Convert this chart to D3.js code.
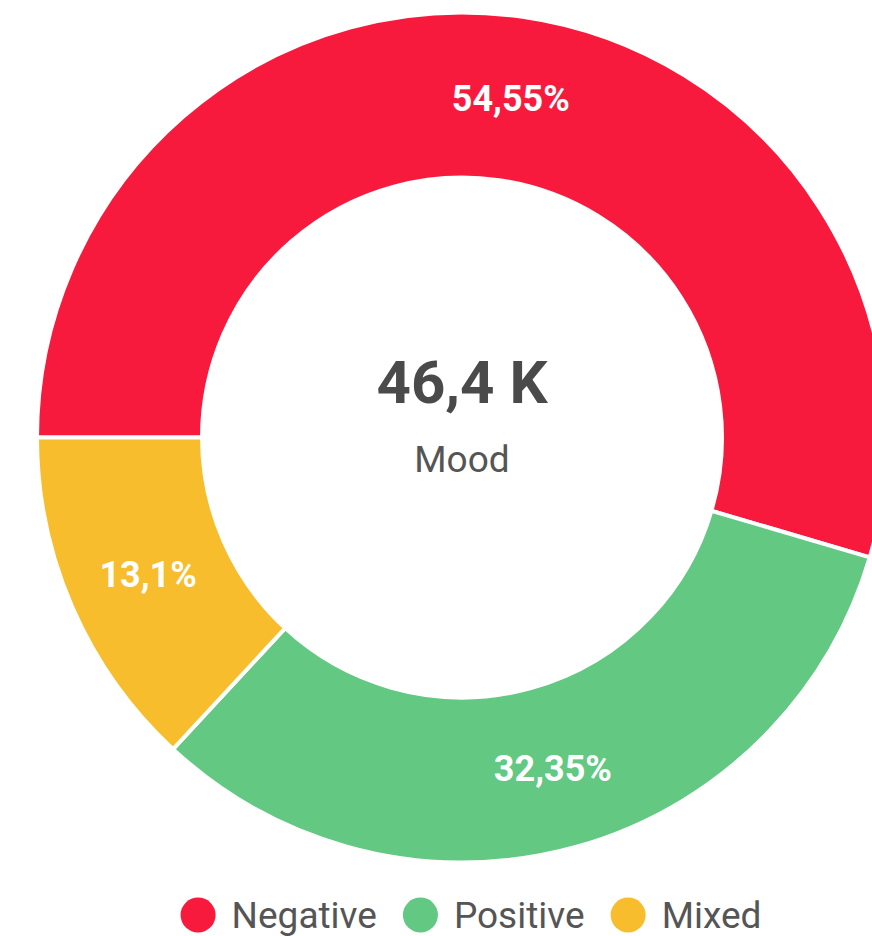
<!DOCTYPE html>
<html>
<head>
<meta charset="utf-8">
<script src="https://cdn.jsdelivr.net/npm/d3@7"></script>
<style>
  body { margin: 0; background: #fff; overflow: hidden; }
  svg { display: block; font-family: Roboto, "Noto Sans", sans-serif; }
</style>
</head>
<body>
<div id="chart"></div>
<script>
// data
const categories = ["Negative", "Positive", "Mixed"];
const shares = [54.55, 32.35, 13.1];
const shareLabels = ["54,55%", "32,35%", "13,1%"];
const colors = ["#F81A3D", "#62C882", "#F7BD2C"];
const totalLabel = "46,4 K";
const centerTitle = "Mood";

const width = 872;
const height = 936;
const cx = 462, cy = 437.5;
const outerR = 425;
const innerR = 260;

const svg = d3.select("#chart")
  .append("svg")
  .attr("width", width)
  .attr("height", height);

const g = svg.append("g")
  .attr("transform", `translate(${cx},${cy})`);

// start at 9 o'clock, clockwise
const pie = d3.pie()
  .sort(null)
  .startAngle(-Math.PI / 2)
  .endAngle(Math.PI * 1.5)
  .value(d => d);

const arc = d3.arc()
  .innerRadius(innerR)
  .outerRadius(outerR);

const arcs = pie(shares);

g.selectAll("path")
  .data(arcs)
  .enter()
  .append("path")
  .attr("d", arc)
  .attr("fill", (d, i) => colors[i])
  .attr("stroke", "#fff")
  .attr("stroke-width", 4);

g.selectAll("text.slice")
  .data(arcs)
  .enter()
  .append("text")
  .attr("class", "slice")
  .attr("transform", d => `translate(${arc.centroid(d)})`)
  .attr("text-anchor", "middle")
  .attr("dy", "0.36em")
  .attr("fill", "#fff")
  .attr("font-weight", "bold")
  .attr("font-size", 36)
  .text((d, i) => shareLabels[i]);

// center text
g.append("text")
  .attr("text-anchor", "middle")
  .attr("y", -35)
  .attr("fill", "#4a4a4a")
  .attr("font-weight", "bold")
  .attr("font-size", 60)
  .text(totalLabel);

g.append("text")
  .attr("text-anchor", "middle")
  .attr("y", 34)
  .attr("fill", "#555")
  .attr("font-size", 37)
  .text(centerTitle);

// legend
const legend = svg.append("g");
const legendY = 915;
const r = 17.5;
const gap = 16, itemGap = 26;
let x = 0;
categories.forEach((c, i) => {
  const item = legend.append("g").attr("transform", `translate(${x},0)`);
  item.append("circle")
    .attr("cx", r)
    .attr("cy", 0)
    .attr("r", r)
    .attr("fill", colors[i]);
  const t = item.append("text")
    .attr("x", 2 * r + gap)
    .attr("dy", "0.36em")
    .attr("fill", "#555")
    .attr("font-size", 37)
    .text(c);
  x += 2 * r + gap + t.node().getComputedTextLength() + itemGap;
});
const legendW = x - itemGap;
legend.attr("transform", `translate(${471 - legendW / 2},${legendY})`);
</script>
</body>
</html>
